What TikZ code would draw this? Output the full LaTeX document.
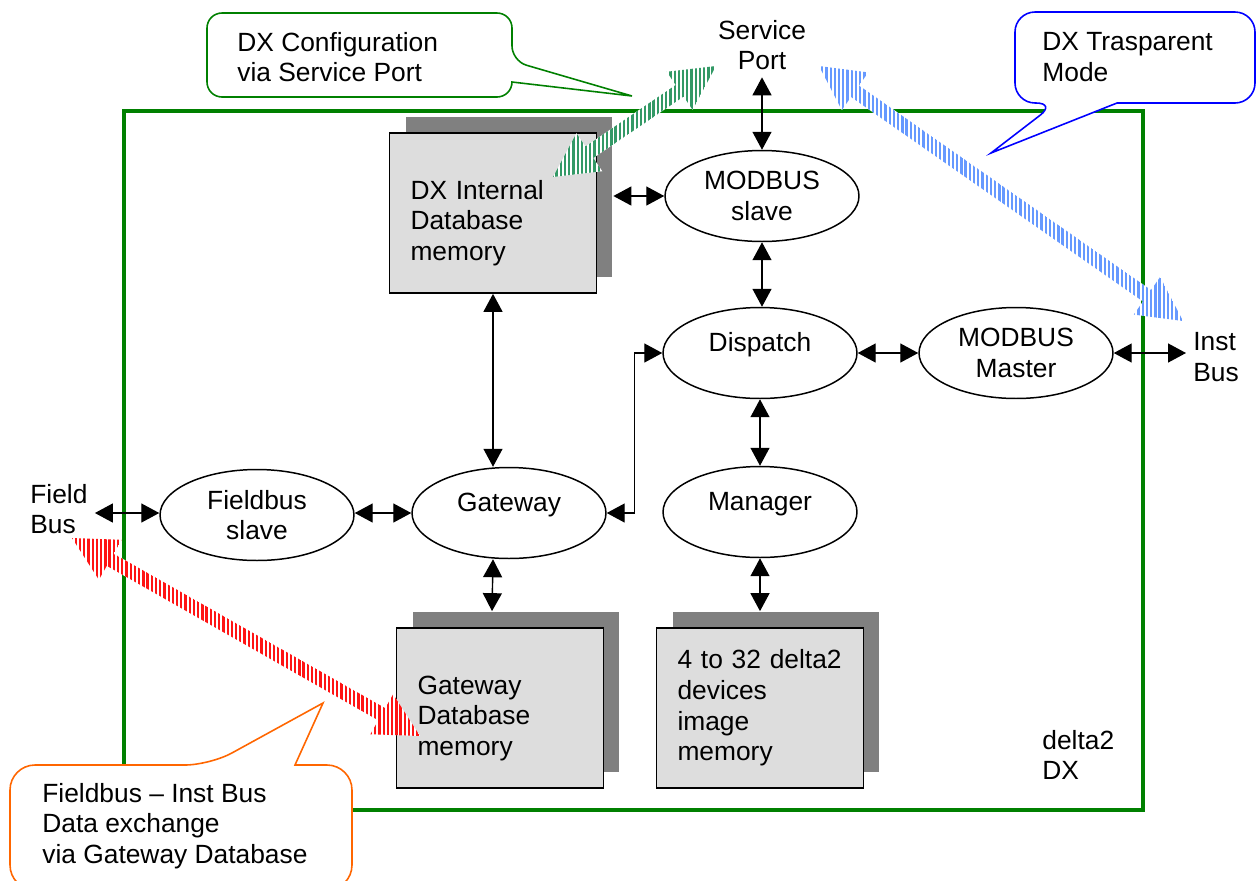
\documentclass[tikz,border=0pt]{standalone}
\usepackage{fontspec}
\setmainfont{Liberation Sans}
\usetikzlibrary{calc,arrows.meta,shapes.geometric,shadows,patterns.meta}

\definecolor{framegreen}{RGB}{0,128,0}
\definecolor{boxgray}{RGB}{221,221,221}
\definecolor{shadegray}{RGB}{128,128,128}
\definecolor{cfggreen}{RGB}{51,153,102}
\definecolor{modeblue}{RGB}{102,153,255}
\definecolor{xchred}{RGB}{255,20,20}
\definecolor{calloutblue}{RGB}{0,0,255}
\definecolor{calloutorange}{RGB}{255,102,0}

\tikzset{
  proc/.style={draw, ellipse, line width=0.85pt, minimum width=3.88cm, minimum height=1.82cm, inner sep=0pt, align=center},
  oneline/.style={text height=11pt, text depth=13pt},
  membox/.style={draw, fill=boxgray, line width=1pt, minimum width=4.14cm, minimum height=3.2cm,
    text width=3.3cm, align=left, inner sep=0pt,
    general shadow={fill=shadegray, shadow xshift=0.32cm, shadow yshift=0.32cm}},
  link/.style={{Triangle[length=0.36cm,width=0.38cm]}-{Triangle[length=0.36cm,width=0.38cm]}, line width=0.8pt},
  lbl/.style={align=left, inner sep=4pt},
  callout/.style={line width=0.9pt, fill=white},
}

% striped double arrow between two tips
\newcommand{\fatarrow}[3]{%
  \path[preaction={fill=white}, pattern={Lines[angle=90,distance=2.4pt,line width=1.3pt]}, pattern color=#3]
    (#1) -- ($(#1)!0.88cm!(#2)!0.46cm!90:(#2)$) -- ($(#1)!0.88cm!(#2)!0.14cm!90:(#2)$)
    -- ($(#2)!0.88cm!(#1)!0.14cm!-90:(#1)$) -- ($(#2)!0.88cm!(#1)!0.46cm!-90:(#1)$)
    -- (#2) -- ($(#2)!0.88cm!(#1)!0.46cm!90:(#1)$) -- ($(#2)!0.88cm!(#1)!0.14cm!90:(#1)$)
    -- ($(#1)!0.88cm!(#2)!0.14cm!-90:(#2)$) -- ($(#1)!0.88cm!(#2)!0.46cm!-90:(#2)$) -- cycle;}

\begin{document}
\begin{tikzpicture}[x=0.02cm, y=-0.02cm, font=\fontsize{15pt}{17.4pt}\selectfont]
    \useasboundingbox (0,0) rectangle (1257,880);

    % device frame
    \draw[framegreen, line width=2pt] (124,111) rectangle (1143,810);
    \node[lbl, anchor=west] (devname) at (1035,755) {delta2\\DX};

    % memories
    \node[membox] (dxdb) at (493,213) {\rule{0pt}{22pt}DX Internal\\Database\\memory};
    \node[membox] (gwdb) at (500,708) {\rule{0pt}{22pt}Gateway\\Database\\memory};
    \node[membox] (devdb) at (760,708) {4 to 32 delta2\\devices\\image\\memory};

    % tasks
    \node[proc] (mslave) at (762,196) {MODBUS\\slave};
    \node[proc, oneline] (dispatch) at (760,353) {Dispatch};
    \node[proc] (mmaster) at (1016,353) {MODBUS\\Master};
    \node[proc, oneline] (manager) at (760,512) {Manager};
    \node[proc, oneline] (gateway) at (509,513) {Gateway};
    \node[proc] (fbslave) at (257,515) {Fieldbus\\slave};

    % ports
    \node[lbl, align=center] (sport) at (762,45) {Service\\Port};
    \node[lbl, anchor=west] (fieldbus) at (23,509) {Field\\Bus};
    \node[lbl, anchor=west] (instbus) at (1186,357) {Inst\\Bus};

    % links
    \draw[link] (sport.south) -- (mslave.north);
    \draw[link] ($(dxdb.east |- mslave.west)+(16,0)$) -- (mslave.west);
    \draw[link] (mslave.south) -- (mslave.south |- dispatch.north);
    \draw[link] (dispatch) -- (mmaster);
    \draw[link] (mmaster.east) -- (instbus.west |- mmaster.east);
    \draw[link] (dispatch) -- (manager);
    \draw[link] (dxdb.south) -- (dxdb.south |- gateway.north);
    \draw[link] (gateway.east) -- ++(28,0) |- (dispatch.west);
    \draw[link] (fieldbus.east |- gateway.west) -- (fbslave.west |- gateway.west);
    \draw[link] (fbslave.east |- gateway.west) -- (gateway.west);
    \draw[link] (gateway.south -| dxdb.south) -- ([shift={(-0.16cm,0.32cm)}]gwdb.north);
    \draw[link] (manager) -- ([yshift=0.32cm]devdb.north);

    % callouts
    \draw[callout, draw=framegreen] (632,96) -- (512,82) [rounded corners=0.3cm] -- (512,97) -- (207,97)
        -- (207,13) -- (512,13) -- (512,61) [sharp corners] -- cycle;
    \node[lbl, anchor=west] (cfgnote) at (230,57) {DX Configuration\\via Service Port};
    \draw[callout, draw=calloutblue] (991,153) -- (1117,103) [rounded corners=0.4cm] -- (1255,103) -- (1255,12)
        -- (1015,12) -- (1015,103) -- (1056,103) [sharp corners] -- cycle;
    \node[lbl, anchor=west] (modenote) at (1035,57) {DX Trasparent\\Mode};
    \draw[callout, draw=calloutorange] (323,703) -- (295,765) [rounded corners=0.5cm] -- (352,765) -- (352,890)
        -- (10,890) -- (10,765) -- (210,765) [sharp corners] -- cycle;
    \node[lbl, anchor=west] (xchnote) at (35,826) {Fieldbus -- Inst Bus\\Data exchange\\via Gateway Database};

    % data paths
    \coordinate (cfgA) at (553,177);
    \coordinate (cfgB) at (716,66);
    \coordinate (modeA) at (819,66);
    \coordinate (modeB) at (1183,321);
    \coordinate (xchA) at (72,538);
    \coordinate (xchB) at (420,736);
    \fatarrow{cfgA}{cfgB}{cfggreen}
    \fatarrow{modeA}{modeB}{modeblue}
    \fatarrow{xchA}{xchB}{xchred}

\end{tikzpicture}
\end{document}
